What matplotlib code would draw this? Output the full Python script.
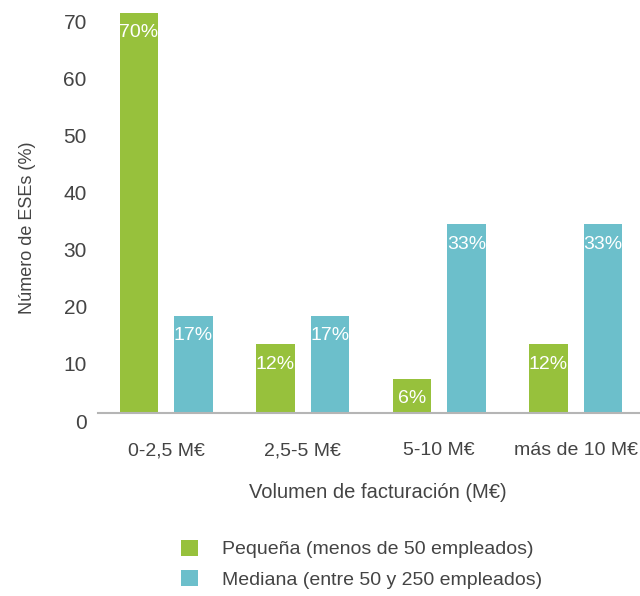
import numpy as np
import matplotlib
matplotlib.use("Agg")
import matplotlib.pyplot as plt
from matplotlib.transforms import ScaledTranslation

plt.rcParams['font.family'] = ['Liberation Sans', 'DejaVu Sans']

# dades
categories = ['0-2,5 M€', '2,5-5 M€', '5-10 M€', 'más de 10 M€']
pequena = [70, 12, 6, 12]
mediana = [17, 17, 33, 33]
labels_pequena = ['70%', '12%', '6%', '12%']
labels_mediana = ['17%', '17%', '33%', '33%']
yticks = [0, 10, 20, 30, 40, 50, 60, 70]

VERD = '#97c13c'
BLAU = '#6cbfcb'
GRIS = '#444444'

fig = plt.figure(figsize=(6.4, 5.96), dpi=100)
ax = fig.add_axes([0.153, 0.307, 0.847, 0.671])

x = np.arange(len(categories))
w = 0.28
off = 0.2
b1 = ax.bar(x - off, pequena, w, color=VERD, label='Pequeña (menos de 50 empleados)')
b2 = ax.bar(x + off, mediana, w, color=BLAU, label='Mediana (entre 50 y 250 empleados)')

for bars, labs in [(b1, labels_pequena), (b2, labels_mediana)]:
    for r, lab in zip(bars, labs):
        ax.annotate(lab, (r.get_x() + r.get_width() / 2, r.get_height()),
                    xytext=(0, -8), textcoords='offset points',
                    ha='center', va='top', color='white', fontsize=14)

ax.set_xlim(-0.5, 3.47)
ax.set_ylim(0, 70)
ax.set_yticks(yticks)
ax.set_xticks(x)
ax.set_xticklabels(categories)
ax.tick_params(axis='both', length=0, labelsize=15, labelcolor=GRIS)
ax.tick_params(axis='x', pad=21, labelsize=14)
ax.tick_params(axis='y', pad=8)
for lab in ax.get_yticklabels():
    lab.set_transform(lab.get_transform() + ScaledTranslation(0, -0.08, fig.dpi_scale_trans))

for s in ['top', 'right', 'left']:
    ax.spines[s].set_visible(False)
ax.spines['bottom'].set_color('#b5b5b5')
ax.spines['bottom'].set_linewidth(1.5)

ax.set_ylabel('Número de ESEs (%)', fontsize=13, color=GRIS)
ax.yaxis.set_label_coords(-0.114, 0.4625)
ax.set_xlabel('Volumen de facturación (M€)', fontsize=14.5, color=GRIS)
ax.xaxis.set_label_coords(0.516, -0.175)

fig.legend(handles=[b1, b2], loc='upper left', bbox_to_anchor=(0.255, 0.124),
           frameon=False, fontsize=14, labelcolor=GRIS, handlelength=0.9,
           handleheight=0.9, handletextpad=1.2, labelspacing=0.6)

fig.savefig('out.png', dpi=100)
